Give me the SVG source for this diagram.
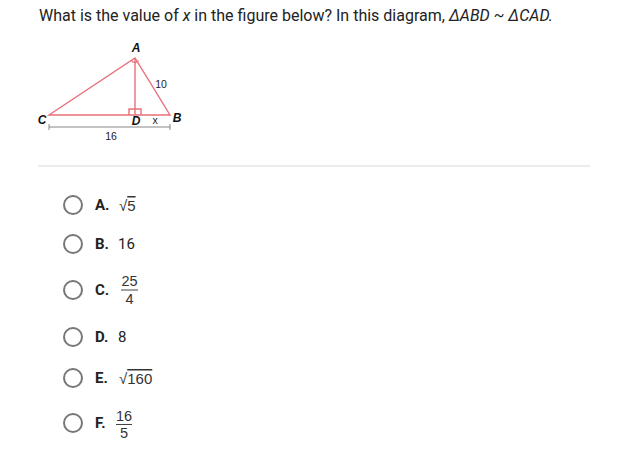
<svg xmlns="http://www.w3.org/2000/svg" width="619" height="461" viewBox="0 0 619 461">
<style>
.t{font-family:Roboto,"Liberation Sans",sans-serif;fill:#222}
.lbl{font-family:"Liberation Sans",Arial,sans-serif;font-size:10.5px;fill:#222}
.pt{font-family:"Liberation Sans",Arial,sans-serif;font-size:12px;font-weight:bold;font-style:italic;fill:#111}
.tri{fill:none;stroke:#e8707a;stroke-width:1.4}
.rad{fill:#fff;stroke:#777;stroke-width:2}
.opt{font-family:Roboto,"Liberation Sans",sans-serif;font-size:15px;fill:#222}
.ob{font-weight:bold}
.fr{font-family:"Liberation Sans",Arial,sans-serif;font-size:14.5px;fill:#333}
.sq{font-family:"Liberation Sans",Arial,sans-serif;font-size:15px;fill:#333}
</style>
<rect width="619" height="461" fill="#fff"/>
<text class="t" x="39" y="21" font-size="16">What is the value of <tspan font-style="italic">x</tspan> in the figure below? In this diagram, <tspan font-style="italic">ΔABD ~ ΔCAD.</tspan></text>
<g id="figure">
<polygon class="tri" points="49,115 135,58 170,115"/>
<line class="tri" x1="135" y1="58" x2="135" y2="115"/>
<path class="tri" d="M129,115 V109 H141 V115" stroke-width="1"/>
<path class="tri" d="M131.5,60.5 A4,4 0 0 0 138.5,60.5" stroke-width="1"/>
<g stroke="#888" stroke-width="1"><line x1="49" y1="127" x2="170" y2="127"/><line x1="49" y1="124" x2="49" y2="130"/><line x1="170" y1="124" x2="170" y2="130"/></g>
<text class="pt" x="136" y="52" text-anchor="middle">A</text>
<text class="pt" x="42" y="124" text-anchor="middle">C</text>
<text class="pt" x="136" y="125" text-anchor="middle">D</text>
<text class="pt" x="177" y="122" text-anchor="middle">B</text>
<text class="lbl" x="155" y="124" text-anchor="middle">x</text>
<text class="lbl" x="161" y="88" text-anchor="middle">10</text>
<text class="lbl" x="111" y="140" text-anchor="middle">16</text>
</g>
<line x1="38" y1="166" x2="590" y2="166" stroke="#e6e6e6" stroke-width="1.5"/>
<g id="optA"><circle class="rad" cx="73" cy="205" r="9"/><text class="opt ob" x="95" y="210">A.</text><text class="sq" x="119" y="211">√<tspan text-decoration="overline">5</tspan></text></g>
<g id="optB"><circle class="rad" cx="73" cy="244" r="9"/><text class="opt ob" x="95" y="249">B.</text><text class="opt" x="118" y="249">16</text></g>
<g id="optC"><circle class="rad" cx="73" cy="290" r="9"/><text class="opt ob" x="95" y="295">C.</text><text class="fr" x="129.5" y="286" text-anchor="middle">25</text><line x1="121" y1="290" x2="138" y2="290" stroke="#444"/><text class="fr" x="129.5" y="304" text-anchor="middle">4</text></g>
<g id="optD"><circle class="rad" cx="73" cy="337" r="9"/><text class="opt ob" x="95" y="342">D.</text><text class="opt" x="118" y="342">8</text></g>
<g id="optE"><circle class="rad" cx="73" cy="378" r="9"/><text class="opt ob" x="95" y="383">E.</text><text class="sq" x="119" y="384">√<tspan text-decoration="overline">160</tspan></text></g>
<g id="optF"><circle class="rad" cx="73" cy="423" r="9"/><text class="opt ob" x="95" y="428">F.</text><text class="fr" x="124" y="421" text-anchor="middle">16</text><line x1="116" y1="424.5" x2="132" y2="424.5" stroke="#444"/><text class="fr" x="124" y="438" text-anchor="middle">5</text></g>
</svg>
